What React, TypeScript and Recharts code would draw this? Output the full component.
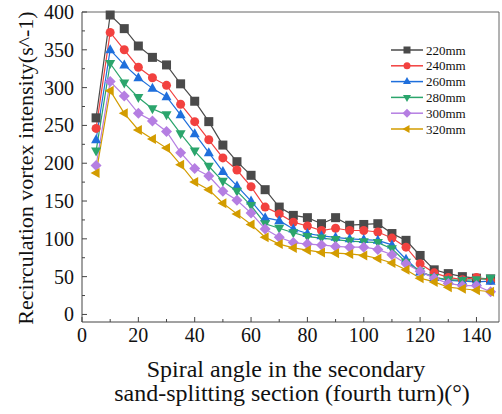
import { LineChart, Line, XAxis, YAxis, ReferenceLine, Label } from 'recharts'

const angles = [5, 10, 15, 20, 25, 30, 35, 40, 45, 50, 55, 60, 65, 70, 75, 80, 85, 90, 95, 100, 105, 110, 115, 120, 125, 130, 135, 140, 145]

const s220 = [260, 396, 378, 355, 340, 330, 305, 282, 255, 224, 202, 184, 165, 142, 131, 128, 120, 128, 118, 119, 120, 107, 98, 78, 59, 54, 50, 48, 47]
const s240 = [246, 373, 350, 327, 313, 303, 278, 255, 231, 207, 191, 169, 142, 133, 122, 117, 111, 114, 111, 111, 109, 101, 89, 67, 55, 49, 46, 49, 45]
const s260 = [231, 350, 330, 313, 299, 288, 264, 239, 214, 189, 170, 150, 128, 124, 113, 107, 104, 102, 100, 99, 98, 92, 73, 56, 49, 45, 44, 43, 44]
const s280 = [216, 332, 306, 287, 272, 264, 239, 216, 196, 176, 163, 144, 120, 114, 108, 103, 101, 99, 97, 96, 95, 87, 69, 57, 49, 46, 45, 46, 48]
const s300 = [197, 308, 289, 266, 256, 242, 214, 193, 183, 163, 151, 134, 113, 102, 95, 93, 92, 90, 89, 89, 86, 79, 67, 57, 48, 41, 38, 38, 30]
const s320 = [187, 296, 266, 244, 232, 220, 198, 175, 165, 147, 133, 119, 102, 93, 88, 85, 82, 81, 80, 78, 74, 68, 59, 48, 43, 36, 34, 32, 30]

const xTicks = [0, 10, 20, 30, 40, 50, 60, 70, 80, 90, 100, 110, 120, 130, 140]
const yTicks = [0, 25, 50, 75, 100, 125, 150, 175, 200, 225, 250, 275, 300, 325, 350, 375, 400]

const series = [
  { key: 's220', name: '220mm', color: '#4a4a4a', shape: 'square', values: s220 },
  { key: 's240', name: '240mm', color: '#f2413f', shape: 'circle', values: s240 },
  { key: 's260', name: '260mm', color: '#1f6fdc', shape: 'up', values: s260 },
  { key: 's280', name: '280mm', color: '#2ba56c', shape: 'down', values: s280 },
  { key: 's300', name: '300mm', color: '#b57ee2', shape: 'diamond', values: s300 },
  { key: 's320', name: '320mm', color: '#d39c00', shape: 'left', values: s320 },
]

const data = angles.map((a, i) => {
  const row: Record<string, number> = { angle: a }
  series.forEach((s) => (row[s.key] = s.values[i]))
  return row
})

const FONT = '"Liberation Serif", "Times New Roman", serif'
const AXIS = '#444'
const txt = { fontFamily: FONT, fill: '#111' }

function Marker({ cx, cy, shape, color, r = 4.5 }: any) {
  if (cx == null || cy == null) return null
  switch (shape) {
    case 'square':
      return <rect x={cx - r} y={cy - r} width={r * 2} height={r * 2} fill={color} />
    case 'circle':
      return <circle cx={cx} cy={cy} r={r} fill={color} />
    case 'up':
      return <polygon points={`${cx},${cy - r - 1} ${cx - r - 0.5},${cy + r - 1} ${cx + r + 0.5},${cy + r - 1}`} fill={color} />
    case 'down':
      return <polygon points={`${cx},${cy + r + 1} ${cx - r - 0.5},${cy - r + 1} ${cx + r + 0.5},${cy - r + 1}`} fill={color} />
    case 'diamond':
      return <polygon points={`${cx},${cy - r - 1} ${cx + r + 1},${cy} ${cx},${cy + r + 1} ${cx - r - 1},${cy}`} fill={color} />
    default:
      return <polygon points={`${cx - r - 1},${cy} ${cx + r - 1},${cy - r - 0.5} ${cx + r - 1},${cy + r + 0.5}`} fill={color} />
  }
}

function XTick({ x, y, payload }: any) {
  const major = payload.value % 20 === 0
  return (
    <g>
      <line x1={x} y1={y} x2={x} y2={y - (major ? 5 : 3)} stroke={AXIS} />
      {major && (
        <text x={x} y={y + 20} textAnchor="middle" fontSize={20} style={txt}>
          {payload.value}
        </text>
      )}
    </g>
  )
}

function YTick({ x, y, payload }: any) {
  const major = payload.value % 50 === 0
  return (
    <g>
      <line x1={x} y1={y} x2={x + (major ? 5 : 3)} y2={y} stroke={AXIS} />
      {major && (
        <text x={x - 8} y={y + 7} textAnchor="end" fontSize={20} style={txt}>
          {payload.value}
        </text>
      )}
    </g>
  )
}

function LegendBox() {
  return (
    <svg width={110} height={100} style={{ position: 'absolute', left: 390, top: 40 }}>
      {series.map((s, i) => {
        const y = 10 + i * 15.8
        return (
          <g key={s.key}>
            <line x1={1} y1={y} x2={33} y2={y} stroke={s.color} strokeWidth={1.5} />
            <Marker cx={17} cy={y} shape={s.shape} color={s.color} r={3.5} />
            <text x={36} y={y + 4.5} fontSize={13} style={txt}>
              {s.name}
            </text>
          </g>
        )
      })}
    </svg>
  )
}

export default function App() {
  return (
    <div style={{ position: 'absolute', left: 0, top: 0, width: 502, height: 414, background: '#fff' }}>
      <LineChart width={502} height={414} data={data} margin={{ top: 12, right: 3, bottom: 0, left: 0 }}>
        <XAxis
          dataKey="angle"
          type="number"
          domain={[0, 148]}
          ticks={xTicks}
          interval={0}
          tickSize={0}
          tickMargin={0}
          tickLine={false}
          tick={<XTick />}
          stroke={AXIS}
          height={92}
        >
          <Label
            content={() => (
              <g>
                <text x={286} y={377} textAnchor="middle" fontSize={24} style={txt}>Spiral angle in the secondary</text>
                <text x={292} y={401} textAnchor="middle" fontSize={24} style={txt}>sand-splitting section (fourth turn)(°)</text>
              </g>
            )}
          />
        </XAxis>
        <YAxis
          type="number"
          domain={[-10, 400]}
          ticks={yTicks}
          interval={0}
          tickSize={0}
          tickMargin={0}
          tickLine={false}
          tick={<YTick />}
          stroke={AXIS}
          width={82}
        >
          <Label
            content={() => (
              <text
                x={33}
                y={168}
                transform="rotate(-90 33 168)"
                textAnchor="middle"
                fontSize={22}
                style={txt}
              >
                Recirculation vortex intensity(s^-1)
              </text>
            )}
          />
        </YAxis>
        <ReferenceLine y={400} stroke="#666" ifOverflow="visible" />
        <ReferenceLine x={148} stroke="#666" ifOverflow="visible" />
        {series.map((s) => (
          <Line
            key={s.key}
            dataKey={s.key}
            name={s.name}
            stroke={s.color}
            strokeWidth={1.2}
            isAnimationActive={false}
            dot={(p: any) => <Marker key={`${s.key}-${p.index}`} cx={p.cx} cy={p.cy} shape={s.shape} color={s.color} />}
            activeDot={false}
          />
        ))}
      </LineChart>
      <LegendBox />
    </div>
  )
}
